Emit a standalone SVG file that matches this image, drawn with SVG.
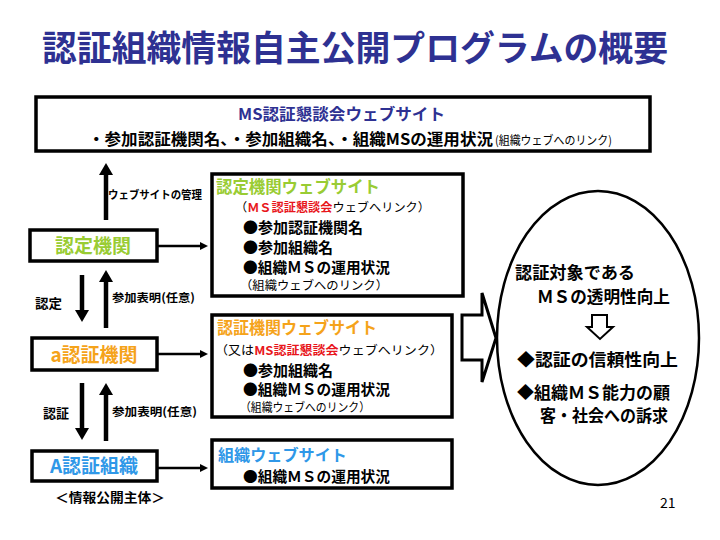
<svg xmlns="http://www.w3.org/2000/svg" width="720" height="540" viewBox="0 0 720 540">
<style>
text{font-family:"Noto Sans CJK JP","Liberation Sans",sans-serif;}
.b{font-weight:700;}
.box{fill:#fff;stroke:#000;stroke-width:3.5;}
.conn{stroke:#000;fill:none;}
.thick{stroke-width:4.5;}
.thin{stroke-width:2.5;}
.navy{fill:#2e3192;}
.green{fill:#99cc33;}
.orange{fill:#f5a31a;}
.blue{fill:#2f98e8;}
.red{fill:#e8161c;}
</style>
<defs>
<marker id="ah" markerWidth="14" markerHeight="14" refX="1" refY="7" orient="auto" markerUnits="userSpaceOnUse"><path d="M0,0 L12,7 L0,14 Z" fill="#000"/></marker>
<marker id="as" markerWidth="8" markerHeight="8" refX="1" refY="4" orient="auto" markerUnits="userSpaceOnUse"><path d="M0,0 L8,4 L0,8 Z" fill="#000"/></marker>
</defs>
<rect width="720" height="540" fill="#fff"/>

<g id="title">
<text x="42" y="61" class="b navy" font-size="35" textLength="626" lengthAdjust="spacingAndGlyphs">認証組織情報自主公開プログラムの概要</text>
</g>

<g id="ms-site">
<rect x="36" y="97" width="614" height="54" class="box"/>
<text x="238" y="120" class="b navy" font-size="16" textLength="207" lengthAdjust="spacingAndGlyphs">MS認証懇談会ウェブサイト</text>
<text x="88" y="145" class="b" font-size="15.5" textLength="405" lengthAdjust="spacingAndGlyphs">・参加認証機関名、・参加組織名、・組織MSの運用状況</text>
<text x="495" y="145" font-size="12" textLength="117" lengthAdjust="spacingAndGlyphs">(組織ウェブへのリンク)</text>
</g>

<g id="nintei-kikan">
<rect x="30" y="230" width="127" height="31" class="box"/>
<text x="93" y="253" class="b green" font-size="19" text-anchor="middle">認定機関</text>
</g>

<g id="a-ninsho-kikan">
<rect x="32" y="338" width="125" height="32" class="box"/>
<text x="94" y="362" class="b orange" font-size="19" text-anchor="middle">a認証機関</text>
</g>

<g id="a-ninsho-soshiki">
<rect x="32" y="451" width="125" height="30" class="box"/>
<text x="94" y="473" class="b blue" font-size="19" text-anchor="middle">A認証組織</text>
<text x="55" y="502" class="b" font-size="13" textLength="110" lengthAdjust="spacingAndGlyphs">＜情報公開主体＞</text>
</g>

<g id="nintei-site">
<rect x="212" y="174" width="251" height="122" class="box"/>
<text x="216" y="193" class="b green" font-size="16.5" textLength="164" lengthAdjust="spacingAndGlyphs">認定機関ウェブサイト</text>
<text x="235" y="212" font-size="12" textLength="195" lengthAdjust="spacingAndGlyphs">（<tspan class="b red">ＭＳ認証懇談会</tspan>ウェブへリンク）</text>
<text x="243" y="233" class="b" font-size="15" textLength="120" lengthAdjust="spacingAndGlyphs">●参加認証機関名</text>
<text x="243" y="253" class="b" font-size="15" textLength="90" lengthAdjust="spacingAndGlyphs">●参加組織名</text>
<text x="243" y="273" class="b" font-size="15" textLength="147" lengthAdjust="spacingAndGlyphs">●組織ＭＳの運用状況</text>
<text x="240" y="290" font-size="12" textLength="148" lengthAdjust="spacingAndGlyphs">（組織ウェブへのリンク）</text>
</g>

<g id="ninsho-site">
<rect x="212" y="315" width="240" height="102" class="box"/>
<text x="217" y="334" class="b orange" font-size="16.5" textLength="160" lengthAdjust="spacingAndGlyphs">認証機関ウェブサイト</text>
<text x="215" y="355" font-size="12" textLength="228" lengthAdjust="spacingAndGlyphs">（又は<tspan class="b red">MS認証懇談会</tspan>ウェブへリンク）</text>
<text x="243" y="376" class="b" font-size="15" textLength="90" lengthAdjust="spacingAndGlyphs">●参加組織名</text>
<text x="243" y="395" class="b" font-size="15" textLength="147" lengthAdjust="spacingAndGlyphs">●組織ＭＳの運用状況</text>
<text x="240" y="412" font-size="12" textLength="130" lengthAdjust="spacingAndGlyphs">（組織ウェブへのリンク）</text>
</g>

<g id="soshiki-site">
<rect x="212" y="440" width="240" height="48" class="box"/>
<text x="218" y="461" class="b blue" font-size="15.5" textLength="129" lengthAdjust="spacingAndGlyphs">組織ウェブサイト</text>
<text x="243" y="482" class="b" font-size="14.5" textLength="147" lengthAdjust="spacingAndGlyphs">●組織ＭＳの運用状況</text>
</g>

<g id="block-arrow">
<path d="M462,315 H482 V293 L496,338 L482,382 V360 H462 Z" fill="#fff" stroke="#000" stroke-width="3" stroke-linejoin="miter"/>
</g>

<g id="effect">
<ellipse cx="598" cy="338" rx="101" ry="147" fill="none" stroke="#000" stroke-width="2.5"/>
<text x="515" y="279" class="b" font-size="17" textLength="120" lengthAdjust="spacingAndGlyphs">認証対象である</text>
<text x="537" y="303" class="b" font-size="17" textLength="133" lengthAdjust="spacingAndGlyphs">ＭＳの透明性向上</text>
<path d="M592,315 H607 V327 H613 L600,339 L587,327 H592 Z" fill="#fff" stroke="#000" stroke-width="2"/>
<text x="517" y="366" class="b" font-size="17" textLength="161" lengthAdjust="spacingAndGlyphs">◆認証の信頼性向上</text>
<text x="517" y="399" class="b" font-size="16.5" textLength="153" lengthAdjust="spacingAndGlyphs">◆組織ＭＳ能力の顧</text>
<text x="540" y="422" class="b" font-size="16.5" textLength="128" lengthAdjust="spacingAndGlyphs">客・社会への訴求</text>
</g>

<g id="connectors">
<line x1="106" y1="220" x2="106" y2="174" class="conn thick" marker-end="url(#ah)"/>
<line x1="82" y1="275" x2="82" y2="311" class="conn thick" marker-end="url(#ah)"/>
<line x1="106" y1="328" x2="106" y2="281" class="conn thick" marker-end="url(#ah)"/>
<line x1="82" y1="383" x2="82" y2="429" class="conn thick" marker-end="url(#ah)"/>
<line x1="106" y1="441" x2="106" y2="394" class="conn thick" marker-end="url(#ah)"/>
<line x1="158" y1="246" x2="201" y2="246" class="conn thin" marker-end="url(#as)"/>
<line x1="158" y1="354" x2="201" y2="354" class="conn thin" marker-end="url(#as)"/>
<line x1="158" y1="468" x2="201" y2="468" class="conn thin" marker-end="url(#as)"/>
</g>

<g id="labels">
<text x="108" y="199" class="b" font-size="11" textLength="94" lengthAdjust="spacingAndGlyphs">ウェブサイトの管理</text>
<text x="35" y="308" class="b" font-size="13" textLength="27" lengthAdjust="spacingAndGlyphs">認定</text>
<text x="112" y="302" class="b" font-size="11.5" textLength="83" lengthAdjust="spacingAndGlyphs">参加表明(任意)</text>
<text x="43" y="418" class="b" font-size="13" textLength="26" lengthAdjust="spacingAndGlyphs">認証</text>
<text x="112" y="416" class="b" font-size="11.5" textLength="85" lengthAdjust="spacingAndGlyphs">参加表明(任意)</text>
<text x="660" y="508" font-size="14" font-family="Liberation Sans, sans-serif">21</text>
</g>
</svg>
